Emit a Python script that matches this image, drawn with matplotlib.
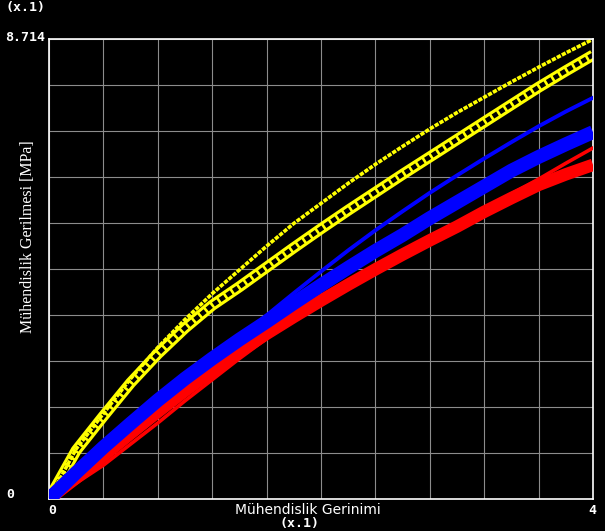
import matplotlib
matplotlib.use("Agg")
import matplotlib.pyplot as plt
import numpy as np

# strain values (x.1)
strain = [0.0, 0.2, 0.4, 0.6, 0.8, 1.0, 1.2, 1.4, 1.6, 1.8, 2.0,
          2.2, 2.4, 2.6, 2.8, 3.0, 3.2, 3.4, 3.6, 3.8, 4.0]

# yellow curves
yellow_thin = [0.0, 0.95, 1.62, 2.28, 2.87, 3.40, 3.89, 4.34, 4.79, 5.22, 5.60,
               5.98, 6.34, 6.68, 7.01, 7.32, 7.61, 7.90, 8.18, 8.45, 8.71]
yellow_band = [0.0, 0.92, 1.57, 2.20, 2.75, 3.24, 3.67, 4.02, 4.39, 4.76, 5.12,
               5.47, 5.81, 6.15, 6.48, 6.81, 7.14, 7.47, 7.80, 8.11, 8.41]

# blue curves
blue_thin = [0.0, 0.50, 0.98, 1.42, 1.84, 2.25, 2.66, 3.07, 3.48, 3.90, 4.31,
             4.71, 5.09, 5.45, 5.80, 6.13, 6.45, 6.76, 7.06, 7.34, 7.60]
blue_band = [0.0, 0.50, 0.98, 1.43, 1.87, 2.28, 2.66, 3.02, 3.36, 3.71, 4.05,
             4.38, 4.70, 5.00, 5.32, 5.62, 5.92, 6.22, 6.48, 6.72, 6.95]

# red curves
red_thin = [0.0, 0.30, 0.64, 1.04, 1.44, 1.86, 2.26, 2.66, 3.04, 3.40, 3.73,
            4.04, 4.34, 4.64, 4.93, 5.22, 5.50, 5.78, 6.06, 6.36, 6.65]
red_band = [0.0, 0.40, 0.82, 1.24, 1.65, 2.05, 2.43, 2.79, 3.13, 3.45, 3.76,
            4.06, 4.35, 4.63, 4.90, 5.16, 5.44, 5.70, 5.95, 6.15, 6.33]

y_max = 8.714

fig = plt.figure(figsize=(6.05, 5.31), dpi=100, facecolor="black")
ax = fig.add_axes([49/605, 1-499/531, 544/605, 460/531], facecolor="black")

# yellow band drawn as a chain of hollow squares
ax.plot(strain, yellow_band, color="#ffff00", lw=8, solid_capstyle="butt", zorder=2)
ax.plot(strain, yellow_band, color="black", lw=3.5, dashes=(1.1, 0.55), zorder=2.1)
ax.plot(strain, yellow_thin, color="#ffff00", lw=2.6, dashes=(1.2, 0.35), zorder=2.2)

ax.plot(strain, red_band, color="#ff0000", lw=9, solid_capstyle="butt", zorder=3)
ax.plot(strain, red_thin, color="#ff0000", lw=2.6, zorder=3.1)

ax.plot(strain, blue_band, color="#0000ff", lw=10, solid_capstyle="butt", zorder=4)
ax.plot(strain, blue_thin, color="#0000ff", lw=2.8, zorder=4.1)

ax.set_xlim(0, 4)
ax.set_ylim(0, y_max)
ax.set_xticks(np.linspace(0, 4, 11))
ax.set_yticks(np.linspace(0, y_max, 11))
ax.tick_params(length=0, labelbottom=False, labelleft=False)
ax.grid(True, color="#8c8c8c", lw=0.8)
for s in ax.spines.values():
    s.set_color("white")
    s.set_linewidth(1.2)

mono = dict(family="DejaVu Sans Mono", weight="bold", size=9.5, color="white")
fig.text(5/605, 1-8/531, "(x.1)", va="center", ha="left", **mono)
fig.text(5/605, 1-37/531, "8.714", va="center", ha="left", **mono)
fig.text(6/605, 1-495/531, "0", va="center", ha="left", **mono)
fig.text(52/605, 1-511/531, "0", va="center", ha="center", **mono)
fig.text(592/605, 1-511/531, "4", va="center", ha="center", **mono)
fig.text(300/605, 1-524/531, "(x.1)", va="center", ha="center", **mono)

fig.text(308/605, 1-510/531, "Mühendislik Gerinimi", va="center", ha="center",
         family="DejaVu Sans", size=10, color="white")
fig.text(28/605, 1-237/531, "Mühendislik Gerilmesi [MPa]", va="center", ha="center",
         rotation=90, family="Liberation Serif", size=11.5, color="white")

fig.savefig("out.png", dpi=100, facecolor="black")
